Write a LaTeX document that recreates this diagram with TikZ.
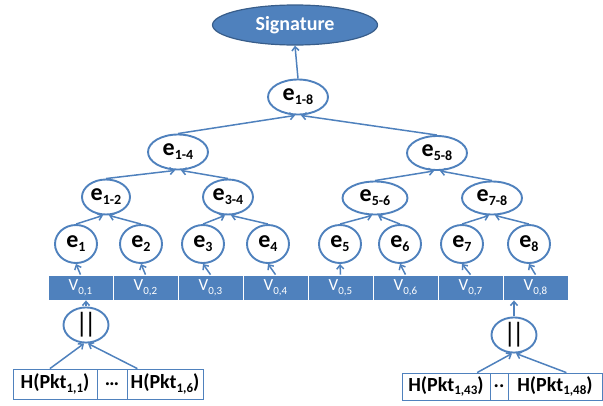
\documentclass[tikz,border=0pt]{standalone}
\usepackage{fontspec}
\setmainfont{Carlito}
\usetikzlibrary{shapes.geometric,arrows.meta,calc}
\definecolor{officeblue}{HTML}{4F81BD}
\definecolor{officedark}{HTML}{385D8A}
% lowered subscript in the current text font
\newcommand\lowsub[3][13]{\raisebox{#2}{\fontsize{#1}{#1}\selectfont #3}}
\newcommand\esub[1]{\lowsub[14]{-0.35ex}{#1}}
\newcommand\psub[1]{\lowsub[13]{-0.35ex}{#1}}
\newcommand\vsub[1]{\lowsub[11]{-0.55ex}{#1}}

\begin{document}
\begin{tikzpicture}[x=1pt,y=-1pt,
  hashnode/.style={ellipse, draw=officeblue, line width=1.9pt, fill=white,
    inner sep=0pt, font=\fontsize{24}{26}\selectfont\bfseries},
  signode/.style={ellipse, draw=officedark, line width=1.2pt, fill=officeblue,
    text=white, inner sep=0pt, minimum width=165pt, minimum height=40pt,
    font=\fontsize{20}{22}\selectfont\bfseries},
  catnode/.style={ellipse, draw=officeblue, line width=1.9pt, fill=white,
    inner sep=0pt, minimum width=45pt, minimum height=33pt,
    font=\fontsize{28}{30}\selectfont},
  cell/.style={rectangle, fill=officeblue, draw=white, line width=0.8pt,
    minimum width=65pt, minimum height=25pt, inner sep=0pt, text=white,
    font=\fontsize{17}{18}\selectfont},
  pktbox/.style={rectangle, draw=officeblue, line width=0.8pt, fill=white,
    inner sep=0pt, font=\fontsize{20}{22}\selectfont\bfseries},
  arr/.style={draw=officeblue, line width=1.5pt,
    -{Straight Barb[length=4pt,width=7pt]}}
]
\useasboundingbox (0,0) rectangle (603,405);

% root signature
\node[signode] (sig) at (295,25) {Signature};

% hash tree
\node[hashnode, minimum width=60pt, minimum height=35pt] (e18) at (298,97) {e\esub{1-8}};
\node[hashnode, minimum width=60pt, minimum height=35pt] (e14) at (178,152) {e\esub{1-4}};
\node[hashnode, minimum width=60pt, minimum height=34pt] (e58) at (437,153) {e\esub{5-8}};
\node[hashnode, minimum width=48pt, minimum height=35pt] (e12) at (106,197) {e\esub{1-2}};
\node[hashnode, minimum width=50pt, minimum height=35pt] (e34) at (228,197) {e\esub{3-4}};
\node[hashnode, minimum width=65pt, minimum height=33pt] (e56) at (375,198) {e\esub{5-6}};
\node[hashnode, minimum width=60pt, minimum height=33pt] (e78) at (492,198) {e\esub{7-8}};

\foreach \n/\x in {1/76,2/141,3/203,4/268,5/340,6/400,7/462,8/529}
  \node[hashnode, minimum width=42pt, minimum height=38pt] (e\n) at (\x,244) {e\esub{\n}};

% leaf values
\foreach \n in {1,...,8}
  \node[cell] (v\n) at ({48+65*(\n-0.5)},287.5) {V\vsub{0,\n}};

% concatenation of packet hashes
\node[catnode] (catL) at (86,325) {|\kern-4.5pt|};
\node[catnode, minimum height=32pt] (catR) at (514,335) {|\kern-4.5pt|};

\node[pktbox, minimum width=84pt, minimum height=30pt] (hL1) at (55,384) {H(Pkt\psub{1,1})};
\node[pktbox, minimum width=30pt, minimum height=30pt] (hLd) at (112,384) {…};
\node[pktbox, minimum width=76pt, minimum height=30pt] (hL6) at (165,384) {H(Pkt\psub{1,6})};

\node[pktbox, minimum width=88pt, minimum height=27pt] (hR1) at (446,386.5) {H(Pkt\psub{1,43})};
\node[pktbox, minimum width=18pt, minimum height=27pt] (hRd) at (499,386.5) {..};
\node[pktbox, minimum width=94pt, minimum height=27pt] (hR2) at (555,386.5) {H(Pkt\psub{1,48})};

% connectors
\draw[arr] (e18.north) -- (sig.south);
\foreach \c/\p in {e14/e18,e12/e14,e1/e12,e3/e34,e56/e58,e5/e56,e7/e78}
  \draw[arr] (\c.north) -- ($(\p.south)+(-3,0)$);
\foreach \c/\p in {e58/e18,e34/e14,e2/e12,e4/e34,e78/e58,e6/e56,e8/e78}
  \draw[arr] (\c.north) -- ($(\p.south)+(3,0)$);
\foreach \n in {1,...,8}
  \draw[arr] (v\n.north) -- (e\n.south);

\draw[arr] (catL.north) -- (catL.north |- v1.south);
\draw[arr] (catR.north) -- (catR.north |- v8.south);

\draw[arr] ($(hL1.north west)!0.44!(hL1.north east)$) -- ($(catL.south)+(-2,0)$);
\draw[arr] ($(hL6.north west)!0.14!(hL6.north east)$) -- ($(catL.south)+(2,0)$);
\draw[arr] ($(hR1.north west)!0.85!(hR1.north east)$) -- ($(catR.south)+(-2,0)$);
\draw[arr] ($(hR2.north west)!0.62!(hR2.north east)$) -- ($(catR.south)+(2,0)$);
\end{tikzpicture}
\end{document}
